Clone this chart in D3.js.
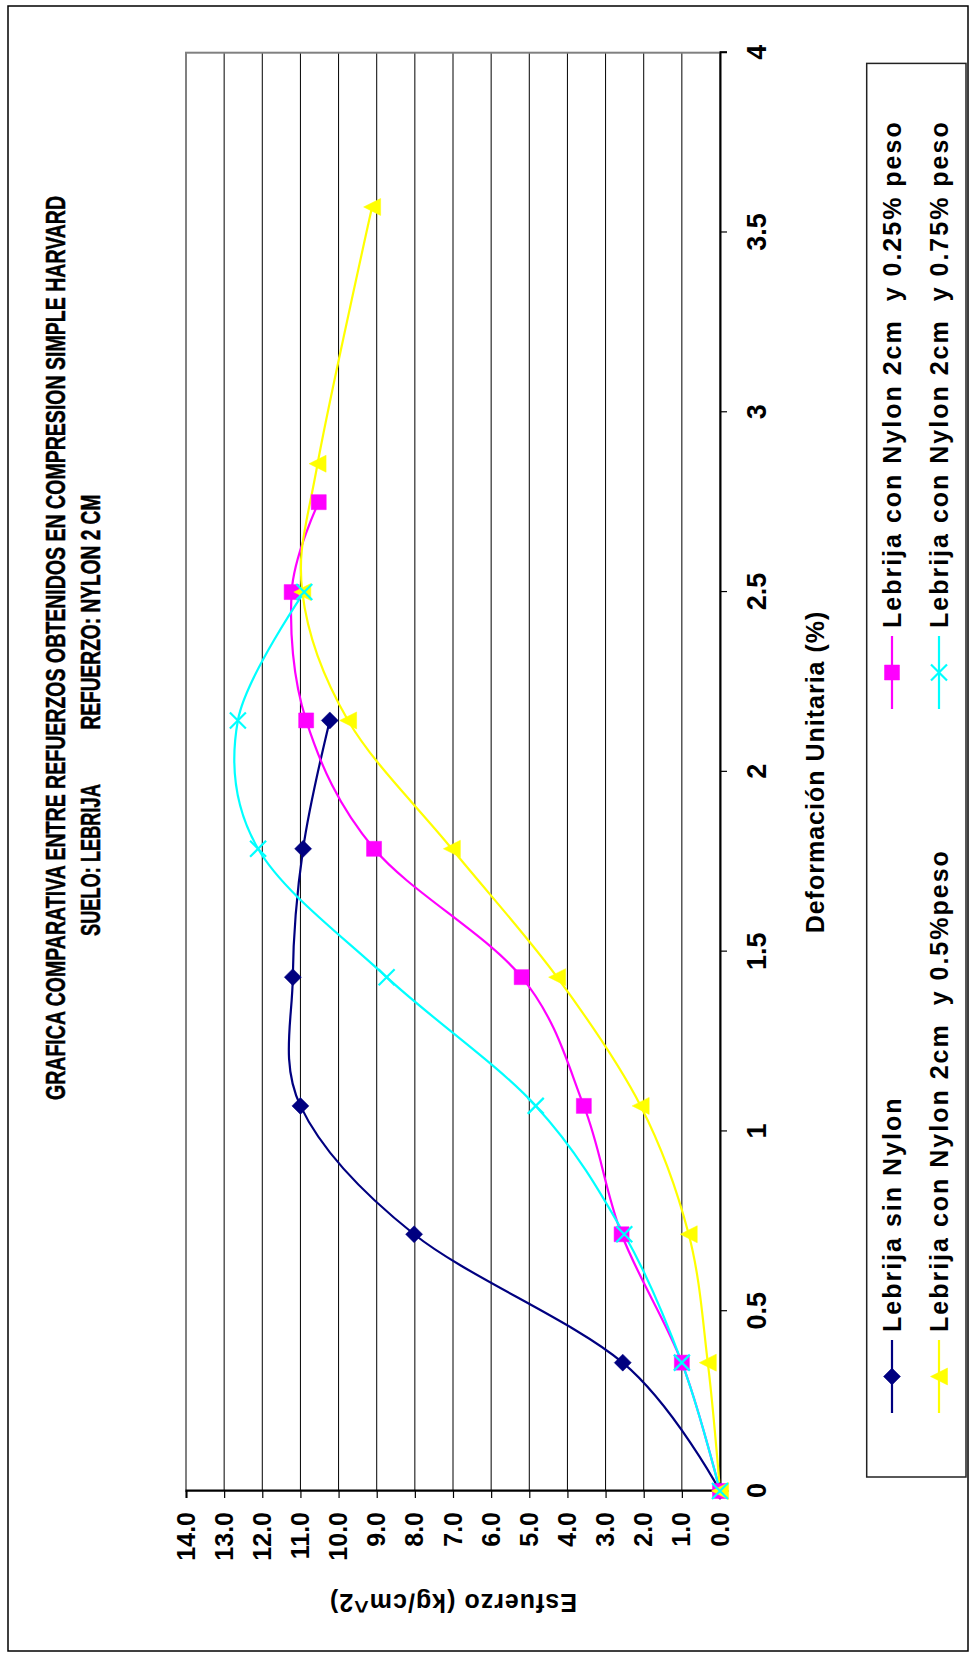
<!DOCTYPE html>
<html><head><meta charset="utf-8">
<script src="https://cdn.jsdelivr.net/npm/d3@7"></script>
<style>
body{margin:0;background:#fff}
svg{display:block}
text{font-family:"Liberation Sans",Arial,sans-serif;font-weight:bold;fill:#000}
</style>
</head><body>
<svg id="c" width="973" height="1653"></svg>
<script>
// ---------- data ----------
const deformTicks = [0, 0.5, 1, 1.5, 2, 2.5, 3, 3.5, 4];
const esfuerzoTicks = [0, 1, 2, 3, 4, 5, 6, 7, 8, 9, 10, 11, 12, 13, 14];
const seriesNames = [
  "Lebrija sin Nylon",
  "Lebrija con Nylon 2cm  y 0.25% peso",
  "Lebrija con Nylon 2cm  y 0.5%peso",
  "Lebrija con Nylon 2cm  y 0.75% peso"
];
const seriesColors = ["#000080", "#FF00FF", "#FFFF00", "#00FFFF"];
const seriesMarkers = ["diamond", "square", "triangle", "x"];

const defSinNylon = [0, 0.357, 0.714, 1.071, 1.429, 1.786, 2.143];
const esfSinNylon = [0, 2.55, 8.02, 11.0, 11.2, 10.93, 10.23];

const def025 = [0, 0.357, 0.714, 1.071, 1.429, 1.786, 2.143, 2.5, 2.75];
const esf025 = [0, 1.0, 2.58, 3.57, 5.2, 9.07, 10.85, 11.23, 10.52];

const def05 = [0, 0.357, 0.714, 1.071, 1.429, 1.786, 2.143, 2.5, 2.857, 3.571];
const esf05 = [0, 0.32, 0.82, 2.08, 4.27, 7.03, 9.75, 10.95, 10.55, 9.12];

const def075 = [0, 0.357, 0.714, 1.071, 1.429, 1.786, 2.143, 2.5];
const esf075 = [0, 1.0, 2.51, 4.83, 8.74, 12.11, 12.64, 10.9];

const titleLine1 = "GRAFICA COMPARATIVA ENTRE REFUERZOS OBTENIDOS EN COMPRESION SIMPLE HARVARD";
const titleLine2a = "SUELO: LEBRIJA";
const titleLine2b = "REFUERZO: NYLON 2 CM";
const xTitle = "Deformación Unitaria (%)";
const yTitle = "Esfuerzo (kg/cm^2)";

// ---------- build ----------
const series = [
  {x: defSinNylon, y: esfSinNylon},
  {x: def025, y: esf025},
  {x: def05, y: esf05},
  {x: def075, y: esf075}
].map((s, i) => ({
  name: seriesNames[i], color: seriesColors[i], marker: seriesMarkers[i],
  pts: s.x.map((d, j) => [d, s.y[j]])
}));

const PW = 973, PH = 1653;
const svg = d3.select("#c");
svg.append("rect").attr("width", PW).attr("height", PH).attr("fill", "#fff");
// outer chart frame
svg.append("rect").attr("x", 8).attr("y", 6).attr("width", 960).attr("height", 1645)
  .attr("fill", "none").attr("stroke", "#000").attr("stroke-width", 1.5);

// whole chart drawn in the un-rotated frame, then turned 90° counter-clockwise
const g = svg.append("g").attr("transform", `translate(0,${PH}) rotate(-90)`);

const x = d3.scaleLinear().domain([0, 4]).range([162, 1600.3]);
const y = d3.scaleLinear().domain([0, 14]).range([720, 186]);

// gridlines
g.append("g").selectAll("line").data(esfuerzoTicks.filter(v => v > 0 && v < 14)).join("line")
  .attr("x1", x(0)).attr("x2", x(4)).attr("y1", d => y(d)).attr("y2", d => y(d))
  .attr("stroke", "#000").attr("stroke-width", 1);

// plot area border
g.append("rect").attr("x", x(0)).attr("y", y(14)).attr("width", x(4) - x(0)).attr("height", y(0) - y(14))
  .attr("fill", "none").attr("stroke", "#808080").attr("stroke-width", 2);

// axes
const yAxis = d3.axisLeft(y).tickValues(esfuerzoTicks).tickFormat(d3.format(".1f")).tickSize(7).tickPadding(14);
const gy = g.append("g").attr("transform", `translate(${x(0)},0)`).call(yAxis);
gy.select(".domain").attr("stroke", "#000").attr("stroke-width", 2);
gy.selectAll(".tick line").attr("stroke", "#000").attr("stroke-width", 1.2);
gy.selectAll("text").style("font-size", "25px").attr("fill", "#000");

const xAxis = d3.axisBottom(x).tickValues(deformTicks).tickFormat(d => String(d)).tickSize(7).tickPadding(20);
const gx = g.append("g").attr("transform", `translate(0,${y(0)})`).call(xAxis);
gx.select(".domain").attr("stroke", "#000").attr("stroke-width", 2);
gx.selectAll(".tick line").attr("stroke", "#000").attr("stroke-width", 1.2);
gx.selectAll("text").style("font-size", "27px").attr("fill", "#000");

// axis titles
g.append("text").attr("x", 881).attr("y", 824).attr("text-anchor", "middle")
  .style("font-size", "25px").style("letter-spacing", "1px").text(xTitle);
g.append("text").attr("transform", `translate(58.7,${(y(0) + y(14)) / 2}) rotate(-90)`)
  .attr("text-anchor", "middle").style("font-size", "25px").style("letter-spacing", "1px").text(yTitle);

// chart title: narrow glyphs as in the original, fitted by a horizontal scale
function condensedText(str, x0, y0, len, size) {
  const t = g.append("text").attr("y", 0).style("font-size", size + "px")
    .attr("stroke", "#000").attr("stroke-width", 0.5).text(str);
  const natural = t.node().getComputedTextLength();
  t.attr("transform", `translate(${x0},${y0}) scale(${len / natural},1)`);
  return t;
}
condensedText(titleLine1, 553, 65, 905, 28);
condensedText(titleLine2a, 717, 100, 152, 28);
condensedText(titleLine2b, 923.5, 100, 235, 28);

// marker shapes (in un-rotated frame)
function markerPath(type) {
  switch (type) {
    case "diamond": return "M0,-8.5L8.5,0L0,8.5L-8.5,0Z";
    case "square": return "M-7.5,-7.5H7.5V7.5H-7.5Z";
    case "triangle": return "M0,-8.5L8.5,8.5L-8.5,8.5Z";
    case "x": return "M-8,-8L8,8M-8,8L8,-8";
  }
}
function drawMarker(sel, s) {
  const isX = s.marker === "x";
  sel.attr("d", markerPath(s.marker))
    .attr("fill", isX ? "none" : s.color)
    .attr("stroke", s.color)
    .attr("stroke-width", isX ? 2.2 : 0.5);
}

// series
const line = d3.line().x(d => x(d[0])).y(d => y(d[1])).curve(d3.curveCardinal.tension(0));
const gs = g.append("g");
series.forEach(s => {
  gs.append("path").datum(s.pts).attr("d", line)
    .attr("fill", "none").attr("stroke", s.color).attr("stroke-width", 2.2);
});
series.forEach(s => {
  gs.append("g").selectAll("path").data(s.pts).join("path")
    .attr("transform", d => `translate(${x(d[0])},${y(d[1])})`)
    .call(drawMarker, s);
});

// legend
const leg = g.append("g");
leg.append("rect").attr("x", 176).attr("y", 866.7).attr("width", 1589.6 - 176).attr("height", 966 - 866.7)
  .attr("fill", "#fff").attr("stroke", "#222").attr("stroke-width", 1.5);
const legRows = [892, 939];
const legCols = [240, 944];
series.forEach((s, i) => {
  const cx = legCols[i % 2], cy = legRows[Math.floor(i / 2)];
  const e = leg.append("g").attr("transform", `translate(${cx},${cy})`);
  e.append("line").attr("x1", 0).attr("x2", 73).attr("y1", 0).attr("y2", 0)
    .attr("stroke", s.color).attr("stroke-width", 2.2);
  e.append("path").attr("transform", "translate(36.5,0)").call(drawMarker, s);
  e.append("text").attr("x", 81).attr("y", 8.5).style("font-size", "25px")
    .style("letter-spacing", "2px").style("white-space", "pre").attr("xml:space", "preserve").text(s.name);
});
</script>
</body></html>
